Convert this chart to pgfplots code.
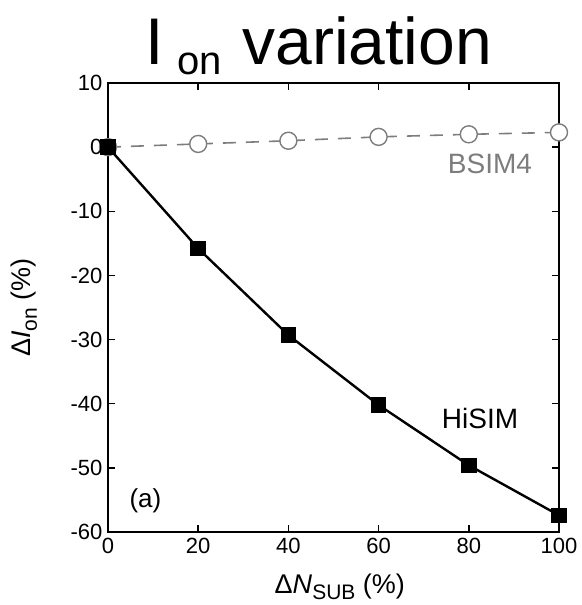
\documentclass[border=0pt]{standalone}
\usepackage{fontspec}
\setmainfont{Liberation Sans}
\usepackage{pgfplots}
\pgfplotsset{compat=1.18}
\definecolor{bsimgray}{RGB}{125,125,125}
\newcommand{\lsub}[1]{\raisebox{-0.22em}{\fontsize{21}{21}\selectfont #1}}
\begin{document}
\begin{tikzpicture}
\useasboundingbox (-108pt,-73pt) rectangle (473pt,532pt);
\node[anchor=base west, inner sep=0pt] at (37pt,467pt) {\fontsize{66}{66}\selectfont I\hspace{14pt}\raisebox{-10pt}{\fontsize{40}{40}\selectfont on}\hspace{2pt} variation};
\begin{axis}[
  at={(0pt,0pt)}, anchor=south west,
  scale only axis, width=451pt, height=449pt,
  xmin=0, xmax=100, ymin=-60, ymax=10,
  xtick={0,20,40,60,80,100},
  ytick={-60,-50,-40,-30,-20,-10,0,10},
  tick align=inside, major tick length=7pt,
  axis line style={line width=1.6pt},
  every tick/.style={line width=1.4pt, black},
  /pgf/number format/assume math mode=true,
  tick label style={font=\fontsize{22}{22}\selectfont},
  xticklabel style={yshift=-3pt},
  yticklabel style={xshift=-2pt},
  xlabel={Δ\textit{N}\lsub{SUB} (\%)},
  ylabel={Δ\textit{I}\lsub{on} (\%)},
  xlabel style={font=\fontsize{27}{27}\selectfont, at={(axis description cs:0.514,-0.122)}, anchor=center},
  ylabel style={font=\fontsize{27}{27}\selectfont, at={(axis description cs:-0.186,0.5)}, anchor=center},
  clip=false,
]
\addplot[bsimgray, line width=1.6pt, dash pattern=on 13pt off 10pt,
  mark=*, mark size=8.5pt, mark options={solid, fill=white, draw=bsimgray, line width=1.4pt}]
  coordinates {(0,0) (20,0.5) (40,1.0) (60,1.6) (80,2.0) (100,2.3)};
\addplot[black, line width=2.4pt, mark=square*, mark size=6.5pt, mark options={solid, fill=black}]
  coordinates {(0,0) (20,-15.8) (40,-29.3) (60,-40.2) (80,-49.6) (100,-57.4)};
\node[bsimgray, font=\fontsize{28}{28}\selectfont] at (axis cs:84.7,-2.6) {BSIM4};
\node[black, font=\fontsize{28}{28}\selectfont] at (axis cs:82.5,-42.3) {HiSIM};
\node[black, font=\fontsize{26}{26}\selectfont] at (axis cs:8.3,-55.1) {(a)};
\end{axis}
\end{tikzpicture}
\end{document}
